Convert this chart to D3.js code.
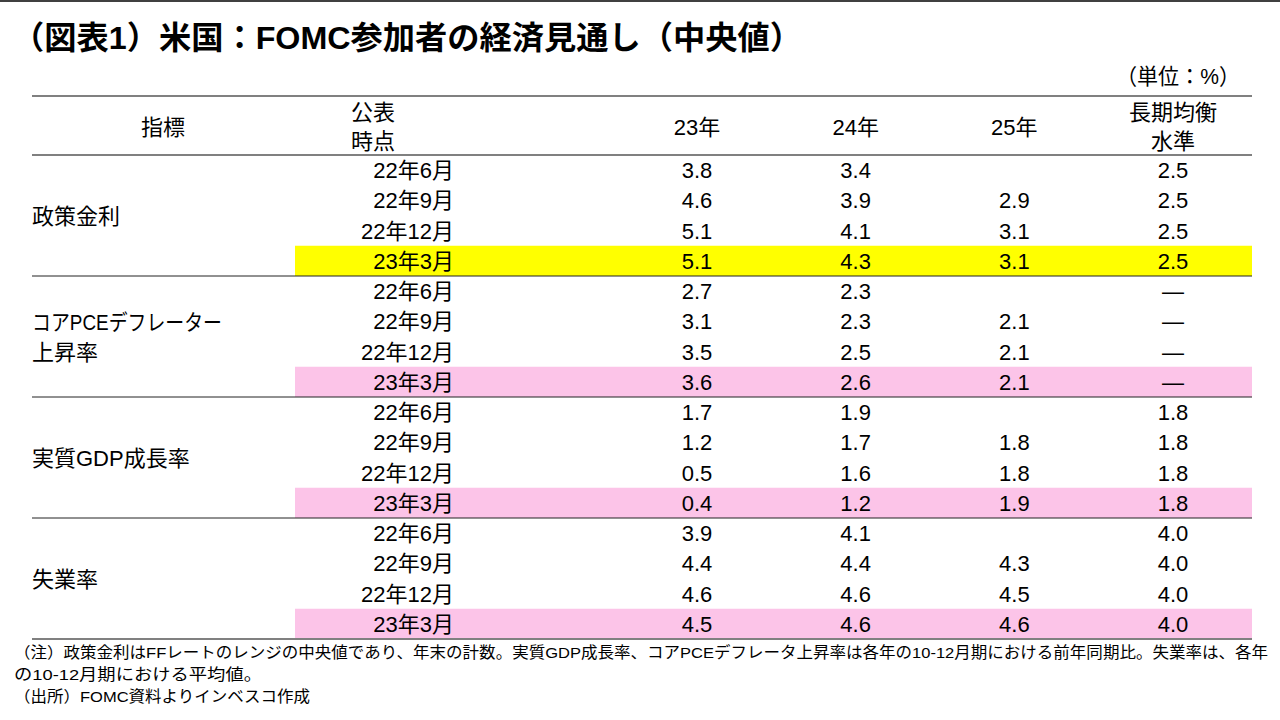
<!DOCTYPE html>
<html><head><meta charset="utf-8">
<script src="https://cdn.jsdelivr.net/npm/d3@7"></script>
<style>
html,body{margin:0;padding:0;background:#fff;}
svg{display:block;font-family:"Liberation Sans","Noto Sans CJK JP",sans-serif;}
</style></head>
<body><svg id="c" width="1280" height="720"></svg>
<script>
const title = "（図表1）米国：FOMC参加者の経済見通し（中央値）";
const unitLabel = "（単位：%）";
const headerIndicator = "指標";
const headerDate = ["公表", "時点"];
const columns = [["23年"], ["24年"], ["25年"], ["長期均衡", "水準"]];
const indicators = [["政策金利"], ["コアPCEデフレーター", "上昇率"], ["実質GDP成長率"], ["失業率"]];
const dates = ["22年6月", "22年9月", "22年12月", "23年3月"];
const policyRate = [["3.8","3.4","","2.5"],["4.6","3.9","2.9","2.5"],["5.1","4.1","3.1","2.5"],["5.1","4.3","3.1","2.5"]];
const corePCE = [["2.7","2.3","","―"],["3.1","2.3","2.1","―"],["3.5","2.5","2.1","―"],["3.6","2.6","2.1","―"]];
const realGDP = [["1.7","1.9","","1.8"],["1.2","1.7","1.8","1.8"],["0.5","1.6","1.8","1.8"],["0.4","1.2","1.9","1.8"]];
const unemployment = [["3.9","4.1","","4.0"],["4.4","4.4","4.3","4.0"],["4.6","4.6","4.5","4.0"],["4.5","4.6","4.6","4.0"]];
const highlightColors = ["#FFFF00", "#FCC4E8", "#FCC4E8", "#FCC4E8"];
const notes = [
  "（注）政策金利はFFレートのレンジの中央値であり、年末の計数。実質GDP成長率、コアPCEデフレータ上昇率は各年の10-12月期における前年同期比。失業率は、各年",
  "の10-12月期における平均値。",
  "（出所）FOMC資料よりインベスコ作成"
];

const groups = [policyRate, corePCE, realGDP, unemployment];
const svg = d3.select("#c");
const left = 32, right = 1252;
const headTop = 96, headBottom = 155, groupH = 121;
const fs = 22;

// top rule
svg.append("line").attr("x1",0).attr("x2",1280).attr("y1",1).attr("y2",1).attr("stroke","#000").attr("stroke-width",1.5);

// title
svg.append("text").attr("x",12).attr("y",49).attr("font-size",32).attr("font-weight","bold")
  .attr("textLength",790).attr("lengthAdjust","spacingAndGlyphs").attr("fill","#000").text(title);

svg.append("text").attr("x",1116).attr("y",84).attr("font-size",22)
  .attr("textLength",124).attr("lengthAdjust","spacingAndGlyphs").text(unitLabel);

const yGroup = d3.scaleBand().domain(d3.range(indicators.length)).range([headBottom, headBottom + groupH*indicators.length]);
const yRow = d3.scaleBand().domain(d3.range(dates.length)).range([0, groupH]);
const xCol = d3.scalePoint().domain(d3.range(columns.length)).range([697, 1173]);
const dateRight = 454, bandLeft = 295;

// highlight bands
groups.forEach((g, gi) => {
  const y0 = yGroup(gi) + yRow(dates.length-1);
  svg.append("rect").attr("x",bandLeft).attr("y",y0).attr("width",right-bandLeft).attr("height",yRow.bandwidth()).attr("fill",highlightColors[gi]);
});

// header
svg.append("text").attr("x",163).attr("y",135).attr("text-anchor","middle").attr("font-size",fs).text(headerIndicator);
headerDate.forEach((t,i)=> svg.append("text").attr("x",351).attr("y",120+i*29).attr("font-size",fs).text(t));
columns.forEach((c,ci)=>{
  const n=c.length;
  c.forEach((t,i)=> svg.append("text").attr("x",xCol(ci)).attr("y",(n===1?135:120)+i*29).attr("text-anchor","middle").attr("font-size",fs).text(t));
});

// rows
groups.forEach((g, gi) => {
  const gy = yGroup(gi);
  const lab = indicators[gi];
  const cy = gy + groupH/2;
  lab.forEach((t,i)=> {
    const tx = svg.append("text").attr("x",left).attr("y",cy + 8 + (i-(lab.length-1)/2)*30).attr("font-size",fs).text(t);
    const w = tx.node().getComputedTextLength();
    if (t.length > 8) tx.attr("textLength", Math.min(w, 190)).attr("lengthAdjust","spacingAndGlyphs");
  });
  dates.forEach((d, ri) => {
    const ry = gy + yRow(ri) + yRow.bandwidth()/2 + 8;
    svg.append("text").attr("x",dateRight).attr("y",ry).attr("text-anchor","end").attr("font-size",fs).text(d);
    g[ri].forEach((v, ci) => {
      if (v) svg.append("text").attr("x",xCol(ci)).attr("y",ry).attr("text-anchor","middle").attr("font-size",fs).text(v);
    });
  });
});

// rules
svg.append("line").attr("x1",left).attr("x2",right).attr("y1",headTop).attr("y2",headTop).attr("stroke","#808080").attr("stroke-width",2);
svg.append("line").attr("x1",left).attr("x2",right).attr("y1",headBottom).attr("y2",headBottom).attr("stroke","#808080").attr("stroke-width",2);
for (let gi=1; gi<indicators.length; gi++){
  const y = yGroup(gi);
  svg.append("line").attr("x1",left).attr("x2",right).attr("y1",y).attr("y2",y).attr("stroke","#222").attr("stroke-width",1);
}
const yb = yGroup(indicators.length-1)+groupH;
svg.append("line").attr("x1",left).attr("x2",right).attr("y1",yb).attr("y2",yb).attr("stroke","#808080").attr("stroke-width",2);

// notes
const noteLens = [1254, 248, 296];
notes.forEach((t,i)=> svg.append("text").attr("x",14).attr("y",658+i*22).attr("font-size",15.5)
  .attr("textLength",noteLens[i]).attr("lengthAdjust","spacingAndGlyphs").text(t));
</script></body></html>
